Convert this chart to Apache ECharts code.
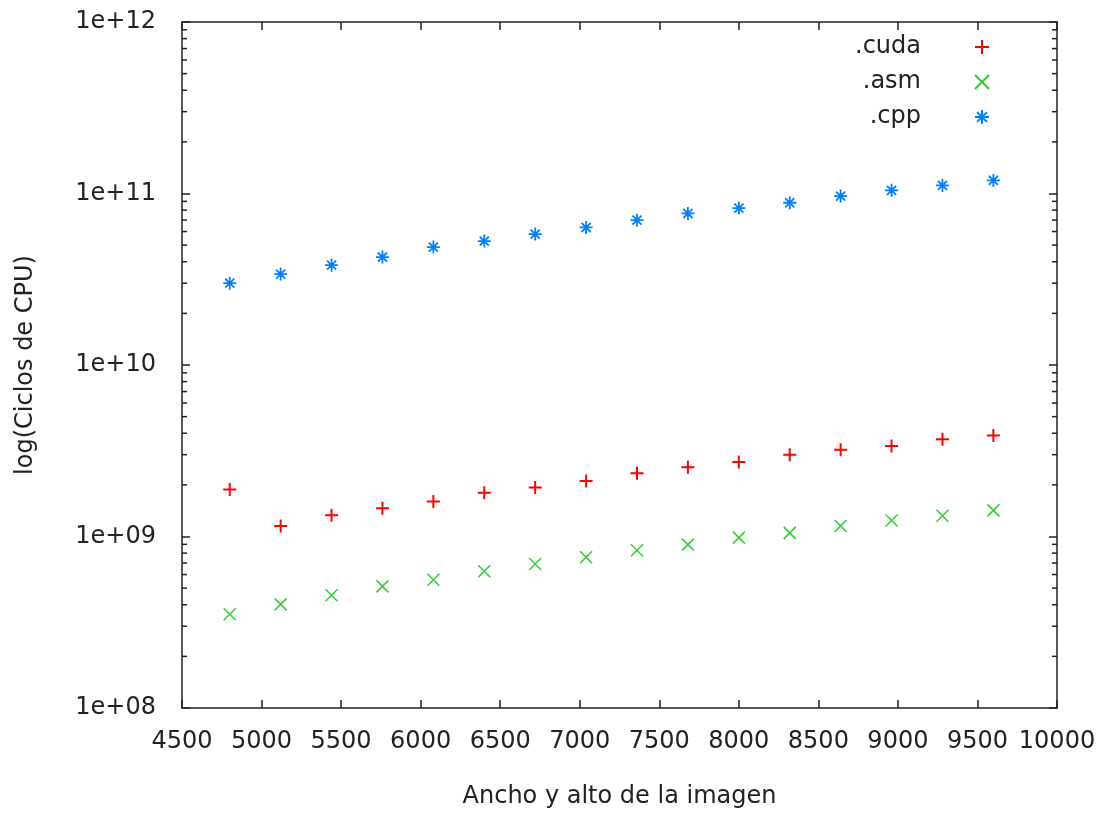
<!DOCTYPE html>
<html>
<head>
<meta charset="utf-8">
<script src="https://cdn.jsdelivr.net/npm/echarts@6/dist/echarts.min.js"></script>
<style>
  html, body { margin: 0; padding: 0; background: #fff; }
  #chart { width: 1100px; height: 813px; }
</style>
</head>
<body>
<div id="chart"></div>
<script>
// image width/height (x axis)
const sizes = [4800, 5120, 5440, 5760, 6080, 6400, 6720, 7040, 7360, 7680, 8000, 8320, 8640, 8960, 9280, 9600];

// CPU cycles per implementation
const cuda = [1.88e9, 1.15e9, 1.33e9, 1.46e9, 1.6e9, 1.8e9, 1.93e9, 2.11e9, 2.34e9, 2.53e9, 2.72e9, 3.0e9, 3.21e9, 3.37e9, 3.69e9, 3.88e9];
const asm = [3.52e8, 4.02e8, 4.54e8, 5.12e8, 5.6e8, 6.27e8, 6.91e8, 7.56e8, 8.31e8, 8.97e8, 9.85e8, 1.05e9, 1.15e9, 1.24e9, 1.32e9, 1.42e9];
const cpp = [3.0e10, 3.39e10, 3.82e10, 4.26e10, 4.87e10, 5.28e10, 5.8e10, 6.34e10, 6.99e10, 7.65e10, 8.22e10, 8.83e10, 9.66e10, 1.043e11, 1.115e11, 1.192e11];

const yTickLabels = ['1e+08', '1e+09', '1e+10', '1e+11', '1e+12'];
const decades = [1e8, 1e9, 1e10, 1e11];
const minorMults = [2, 3, 4, 5, 6, 7, 8, 9];

const FONT = 'DejaVu Sans';
const FS = 24;
const INK = '#222';

const pair = (ys) => sizes.map((x, i) => [x, ys[i]]);

const minorTicks = [];
decades.forEach((d) => minorMults.forEach((m) => minorTicks.push([4500, d * m])));

const plusPath = 'path://M0,5L10,5M5,0L5,10';
const crossPath = 'path://M0,0L10,10M0,10L10,0';
const starPath = 'path://M0,5L10,5M5,0L5,10M1.5,1.5L8.5,8.5M1.5,8.5L8.5,1.5';

const xAxisBase = {
  type: 'value',
  min: 4500,
  max: 10000,
  interval: 500,
  axisLine: { lineStyle: { color: INK, width: 1.5 } },
  axisTick: { inside: true, length: 8, lineStyle: { color: INK, width: 1.5 } },
  splitLine: { show: false },
};

const yAxisBase = {
  type: 'log',
  logBase: 10,
  min: 1e8,
  max: 1e12,
  interval: 1,
  axisLine: { show: true, lineStyle: { color: INK, width: 1.5 } },
  axisTick: { show: true, inside: true, length: 8, lineStyle: { color: INK, width: 1.5 } },
  splitLine: { show: false },
  minorTick: { show: false },
};

const chart = echarts.init(document.getElementById('chart'));

chart.setOption({
  backgroundColor: '#fff',
  animation: false,
  textStyle: { fontFamily: FONT },
  grid: { left: 182, right: 43, top: 22, bottom: 105, containLabel: false, outerBoundsMode: 'none' },
  legend: {
    orient: 'vertical',
    align: 'right',
    right: 110,
    top: 35,
    padding: 0,
    itemWidth: 14,
    itemHeight: 14,
    itemGap: 11,
    data: ['.cuda', '.asm', '.cpp'],
    textStyle: { fontFamily: FONT, fontSize: FS, color: INK, lineHeight: 24, padding: [0, 49, 0, 0] },
  },
  xAxis: [
    {
      ...xAxisBase,
      position: 'bottom',
      name: 'Ancho y alto de la imagen',
      nameLocation: 'middle',
      nameGap: 77,
      nameTextStyle: { fontFamily: FONT, fontSize: FS, color: INK },
      axisLabel: { fontFamily: FONT, fontSize: FS, color: INK, margin: 22, formatter: (v) => String(v) },
    },
    { ...xAxisBase, position: 'top', axisLabel: { show: false } },
  ],
  yAxis: [
    {
      ...yAxisBase,
      position: 'left',
      name: 'log(Ciclos de CPU)',
      nameLocation: 'middle',
      nameGap: 144,
      nameRotate: 90,
      nameTextStyle: { fontFamily: FONT, fontSize: FS, color: INK },
      axisLabel: {
        fontFamily: FONT, fontSize: FS, color: INK, margin: 26,
        formatter: (v) => yTickLabels[Math.round(Math.log10(v)) - 8],
      },
    },
    { ...yAxisBase, position: 'right', axisLabel: { show: false } },
  ],
  series: [
    {
      name: '.cuda',
      type: 'scatter',
      data: pair(cuda),
      symbol: plusPath,
      symbolSize: 13,
      itemStyle: { color: '#ff0000', borderColor: '#ff0000', borderWidth: 2, opacity: 1 },
    },
    {
      name: '.asm',
      type: 'scatter',
      data: pair(asm),
      symbol: crossPath,
      symbolSize: 12,
      itemStyle: { color: '#33cc33', borderColor: '#33cc33', borderWidth: 1.5, opacity: 1 },
    },
    {
      name: '.cpp',
      type: 'scatter',
      data: pair(cpp),
      symbol: starPath,
      symbolSize: 13,
      itemStyle: { color: '#0080ff', borderColor: '#0080ff', borderWidth: 1.8, opacity: 1 },
    },
    {
      // minor log ticks on both y edges
      name: 'minor',
      type: 'custom',
      data: minorTicks,
      encode: { x: 0, y: 1 },
      silent: true,
      renderItem: (params, api) => {
        const cs = params.coordSys;
        const y = api.coord([api.value(0), api.value(1)])[1];
        const style = { stroke: INK, lineWidth: 1.5 };
        return {
          type: 'group',
          children: [
            { type: 'line', shape: { x1: cs.x, y1: y, x2: cs.x + 5, y2: y }, style },
            { type: 'line', shape: { x1: cs.x + cs.width, y1: y, x2: cs.x + cs.width - 5, y2: y }, style },
          ],
        };
      },
    },
  ],
});
</script>
</body>
</html>
